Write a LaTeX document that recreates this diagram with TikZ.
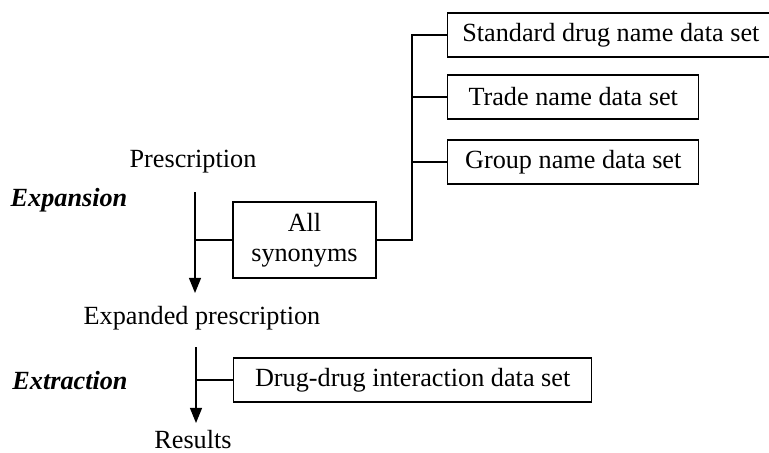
\documentclass[tikz,border=0pt]{standalone}
\usepackage{fontspec}
\setmainfont{Liberation Serif}
\usetikzlibrary{arrows.meta}

\begin{document}
\begin{tikzpicture}[
        x=0.45pt,y=-0.45pt,line width=0.6pt,
        font=\fontsize{11.8}{13.6}\selectfont,
        databox/.style={draw,anchor=west,inner xsep=6.6pt,inner ysep=0pt,minimum height=19.8pt,minimum width=#1},
        databox/.default=10pt,
        stagelabel/.style={font=\fontsize{11.8}{13.6}\selectfont\bfseries\itshape},
        flow/.style={-{Triangle[length=6.8pt,width=5.4pt]}}]

    \useasboundingbox (0,0) rectangle (769,452);

    \node (presc) at (193,162) {Prescription};
    \node (expanded) at (202,318) {Expanded prescription};
    \node (results) at (193,440) {Results};
    \node[stagelabel] (expansion) at (69,200) {Expansion};
    \node[stagelabel] (extraction) at (70,381) {Extraction};

    \node[draw,align=center,inner sep=0pt,minimum width=64.4pt,minimum height=34.2pt] (syn)
        at (304.5,240) {All\\synonyms};
    \node[databox=144.4pt] (std) at (447,35) {Standard drug name data set};
    \node[databox=113pt] (trade) at (447,97) {Trade name data set};
    \node[databox=113pt] (group) at (447,162) {Group name data set};
    \node[databox=161.1pt] (ddi) at (233,380) {Drug-drug interaction data set};

    \coordinate (top1) at (195,192);
    \coordinate (tip1) at (195,293);
    \coordinate (top2) at (196,347);
    \coordinate (tip2) at (196,423);
    \coordinate (bus) at (412,0);

    \draw[flow] (top1) -- (tip1);
    \draw (syn.west) -- (syn.west -| top1);
    \draw (syn.east) -| (bus |- std.west) -- (std.west);
    \foreach \n in {trade,group}
        \draw (\n.west) -- (\n.west -| bus);

    \draw[flow] (top2) -- (tip2);
    \draw (ddi.west) -- (ddi.west -| top2);
\end{tikzpicture}
\end{document}
